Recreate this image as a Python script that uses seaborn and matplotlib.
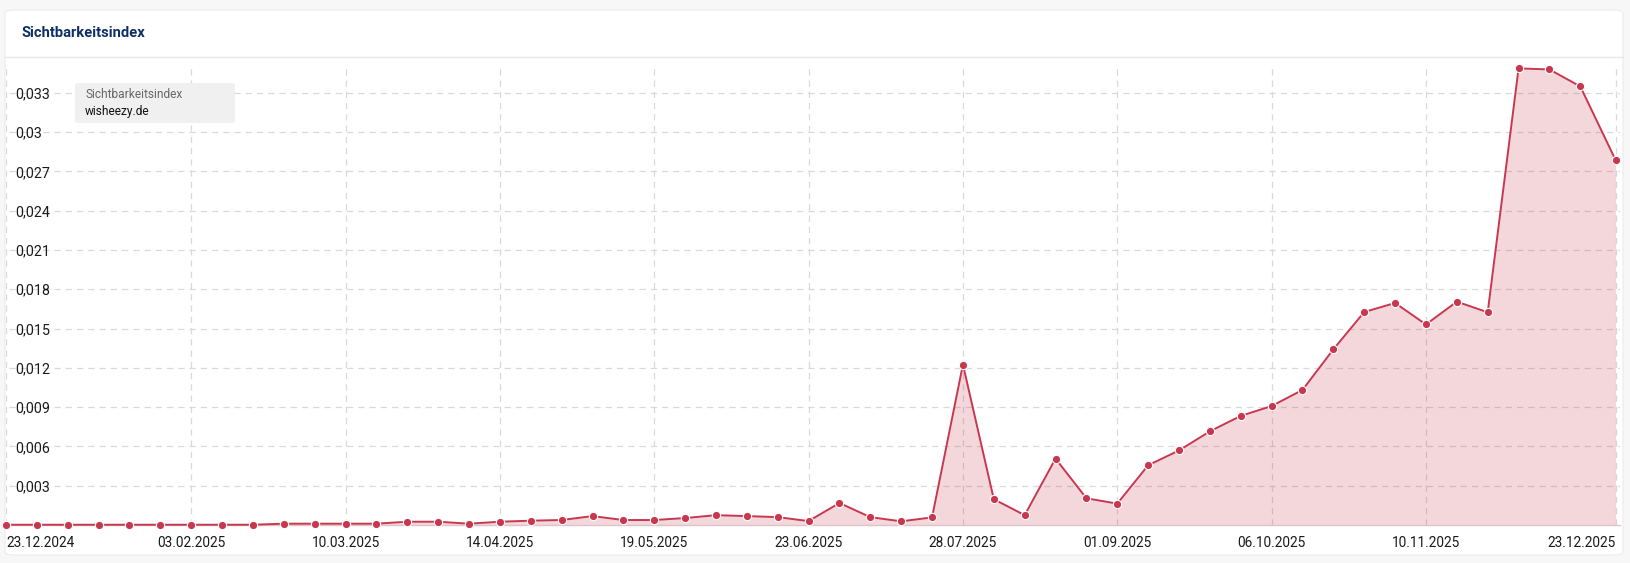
import pandas as pd
import seaborn as sns
import matplotlib.pyplot as plt
from matplotlib.patches import FancyBboxPatch

# Daten (woechentlich, letzter Punkt 23.12.2025)
datum = list(pd.date_range("2024-12-23", periods=52, freq="7D")) + [pd.Timestamp("2025-12-23")]
werte = [
    0.00002, 0.00002, 0.00002, 0.00002, 0.00002, 0.00002, 0.00002, 0.00002, 0.00002,
    0.0001, 0.0001, 0.0001, 0.0001, 0.00025, 0.00025, 0.0001, 0.00025, 0.00033,
    0.00038, 0.00068, 0.00038, 0.00038, 0.00053, 0.00075, 0.00068, 0.0006, 0.0003,
    0.00168, 0.0006, 0.00028, 0.00058, 0.01225, 0.00197, 0.00075, 0.00507, 0.00204,
    0.00163, 0.00456, 0.00569, 0.00715, 0.00833, 0.00908, 0.01031, 0.01341, 0.01626,
    0.01695, 0.01531, 0.01705, 0.01624, 0.03486, 0.03478, 0.03348, 0.02786,
]
tick_daten = pd.to_datetime([
    "2024-12-23", "2025-02-03", "2025-03-10", "2025-04-14", "2025-05-19", "2025-06-23",
    "2025-07-28", "2025-09-01", "2025-10-06", "2025-11-10", "2025-12-23",
])
tick_texte = [
    "23.12.2024", "03.02.2025", "10.03.2025", "14.04.2025", "19.05.2025", "23.06.2025",
    "28.07.2025", "01.09.2025", "06.10.2025", "10.11.2025", "23.12.2025",
]
y_ticks = [0.003, 0.006, 0.009, 0.012, 0.015, 0.018, 0.021, 0.024, 0.027, 0.03, 0.033]
y_texte = ["0,003", "0,006", "0,009", "0,012", "0,015", "0,018", "0,021", "0,024", "0,027", "0,03", "0,033"]

df = pd.DataFrame({"Datum": datum, "Wert": werte})

ROT = "#c9374f"
W, H = 1630, 563

sns.set_theme(style="white")
plt.rcParams["font.family"] = ["Roboto", "DejaVu Sans"]

fig = plt.figure(figsize=(W / 100, H / 100), dpi=100)
fig.patch.set_facecolor("#f7f7f7")

# Karte mit Kopfzeile
karte = FancyBboxPatch((5 / W, 1 - 555 / H), 1618 / W, 545 / H,
                       boxstyle="round,pad=0,rounding_size=0.006",
                       transform=fig.transFigure, facecolor="white",
                       edgecolor="#ececec", linewidth=0.8, zorder=-5)
fig.patches.append(karte)
fig.add_artist(plt.Line2D([5 / W, 1623 / W], [1 - 57 / H, 1 - 57 / H],
                          transform=fig.transFigure, color="#e8e8e8", lw=1, zorder=-4))
fig.text(21 / W, 1 - 33 / H, "Sichtbarkeitsindex", fontsize=10.6, fontweight="bold",
         color="#0e2f66", va="center", ha="left")

ax = fig.add_axes([6 / W, 1 - 525 / H, 1614 / W, 465 / H])
ax.set_facecolor("none")

ax.fill_between(df["Datum"], df["Wert"], 0, color=ROT, alpha=0.2, linewidth=0, zorder=1)
sns.lineplot(data=df, x="Datum", y="Wert", ax=ax, color=ROT, linewidth=1.4,
             marker="o", markersize=6, markeredgecolor="white", markeredgewidth=0.8,
             zorder=3, clip_on=False)

ax.set_xlim(df["Datum"].iloc[0], df["Datum"].iloc[-1] + pd.Timedelta(days=1))
ax.set_ylim(0, 0.0355)

# Gitter
for yt in y_ticks:
    ax.axhline(yt, xmin=0.002, color="#d9d9d9", lw=0.9, ls=(0, (5, 4)), zorder=0.5)
for xt in tick_daten:
    ax.axvline(xt, ymax=0.983, color="#d9d9d9", lw=0.9, ls=(0, (5, 4)), zorder=0.5)

ax.set_yticks(y_ticks)
ax.set_yticklabels(y_texte)
ax.tick_params(axis="y", length=0, pad=-7, labelsize=10.3, labelcolor="#1a1a1a")
for lab in ax.get_yticklabels():
    lab.set_horizontalalignment("left")

ax.set_xticks(tick_daten)
ax.set_xticklabels(tick_texte)
ax.tick_params(axis="x", length=0, pad=8, labelsize=9.8, labelcolor="#1a1a1a")
xlabs = ax.get_xticklabels()
xlabs[0].set_horizontalalignment("left")
xlabs[-1].set_horizontalalignment("right")

ax.set_xlabel("")
ax.set_ylabel("")
for s in ["top", "right", "left"]:
    ax.spines[s].set_visible(False)
ax.spines["bottom"].set_color("#dcc3c8")
ax.spines["bottom"].set_linewidth(1)

# Legenden-Kaestchen
box = FancyBboxPatch((75 / W, 1 - 123 / H), 160 / W, 40 / H,
                     boxstyle="round,pad=0,rounding_size=0.003",
                     transform=fig.transFigure, facecolor="#f0f0f0",
                     edgecolor="none", zorder=5)
fig.patches.append(box)
fig.text(85 / W, 1 - 95 / H, "Sichtbarkeitsindex", fontsize=8.6, color="#666666",
         va="center", ha="left", zorder=6)
fig.text(85 / W, 1 - 111 / H, "wisheezy.de", fontsize=8.6, color="#111111",
         va="center", ha="left", zorder=6)

fig.savefig("out.png", dpi=100, facecolor=fig.get_facecolor())
